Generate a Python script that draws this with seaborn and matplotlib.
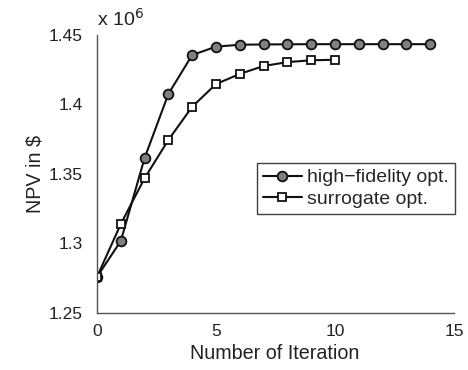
import matplotlib
matplotlib.use("Agg")
import matplotlib.pyplot as plt
import seaborn as sns
import pandas as pd

hf_iter = list(range(15))
hf_npv = [1.2760, 1.3018, 1.3615, 1.4076, 1.4356, 1.4416, 1.4430, 1.4432, 1.4433,
          1.4434, 1.4434, 1.4434, 1.4434, 1.4434, 1.4434]
sg_iter = list(range(11))
sg_npv = [1.2760, 1.3140, 1.3470, 1.3745, 1.3984, 1.4147, 1.4220, 1.4277, 1.4305,
          1.4318, 1.4322]
yticks = [1.25, 1.3, 1.35, 1.4, 1.45]
ytick_labels = ["1.25", "1.3", "1.35", "1.4", "1.45"]
xticks = [0, 5, 10, 15]

df_hf = pd.DataFrame({"it": hf_iter, "npv": hf_npv})
df_sg = pd.DataFrame({"it": sg_iter, "npv": sg_npv})

sns.set_style("white")
plt.rcParams["font.family"] = ["Liberation Sans", "DejaVu Sans"]

fig = plt.figure(figsize=(4.68, 3.70), dpi=100)
ax = fig.add_axes([97 / 468, 1 - 313 / 370, (454 - 97) / 468, (313 - 35) / 370])

sns.lineplot(data=df_hf, x="it", y="npv", ax=ax, color="#111111", lw=1.5,
             marker="o", markersize=7, markerfacecolor="#808080",
             markeredgecolor="#111111", markeredgewidth=1.3,
             label="high\u2212fidelity opt.")
sns.lineplot(data=df_sg, x="it", y="npv", ax=ax, color="#111111", lw=1.5,
             marker="s", markersize=5.5, markerfacecolor="white",
             markeredgecolor="#111111", markeredgewidth=1.3,
             label="surrogate opt.")

ax.set_xlim(0, 15)
ax.set_ylim(1.25, 1.45)
ax.set_xticks(xticks)
ax.set_xticklabels([str(t) for t in xticks])
ax.set_yticks(yticks)
ax.set_yticklabels(ytick_labels)
ax.tick_params(direction="in", length=4, width=0.8, color="#333333",
               labelsize=12.5, labelcolor="#222222")
ax.tick_params(axis="y", pad=10)
ax.tick_params(axis="x", pad=8)
for s in ["top", "right"]:
    ax.spines[s].set_visible(False)
for s in ["left", "bottom"]:
    ax.spines[s].set_color("#555555")
    ax.spines[s].set_linewidth(1.0)

ax.set_xlabel("Number of Iteration", fontsize=14.2, color="#222222")
ax.set_ylabel("NPV in \\$", fontsize=14.2, color="#222222")
ax.xaxis.set_label_coords((275 - 97) / 357, -(344 - 313) / 278)
ax.yaxis.set_label_coords(-(97 - 45) / 357, 0.5)
ax.text(0.0, 1.02, "x 10$^6$", transform=ax.transAxes, fontsize=14,
        color="#222222", ha="left", va="bottom")

leg = ax.legend(loc="upper left", bbox_to_anchor=(0.448, 0.54), frameon=True,
                fancybox=False, edgecolor="#111111", fontsize=14,
                handlelength=2.0, handletextpad=0.3, borderpad=0.3,
                labelspacing=0.2, borderaxespad=0)
leg.get_frame().set_linewidth(1.0)

fig.savefig("out.png", dpi=100)
